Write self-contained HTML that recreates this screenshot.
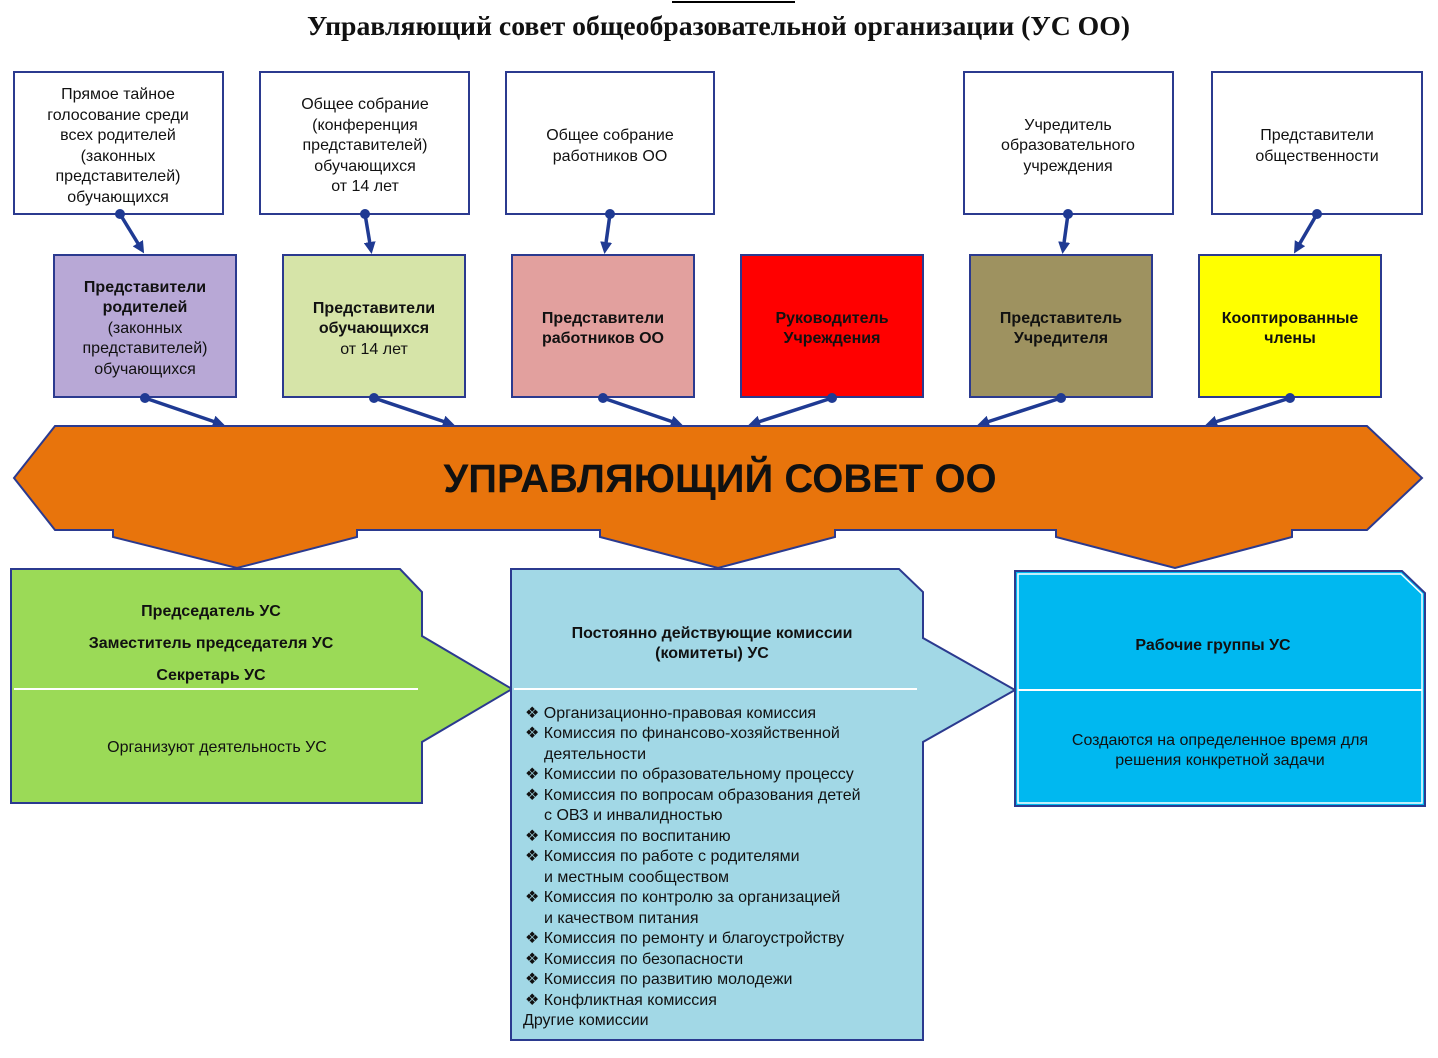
<!DOCTYPE html>
<html><head><meta charset="utf-8"><style>
html,body{margin:0;padding:0;background:#fff}
svg{display:block}
text{font-family:"Liberation Sans",Arial,sans-serif;fill:#111}
.t{font-size:16px;text-anchor:middle}
.b{font-weight:bold}
</style></head><body>
<svg width="1438" height="1058" viewBox="0 0 1438 1058" xmlns="http://www.w3.org/2000/svg">
<defs>
<marker id="ah" markerWidth="12" markerHeight="12" refX="8" refY="6" orient="auto" markerUnits="userSpaceOnUse">
<path d="M0,0 L12,6 L0,12 z" fill="#1F3A93"/>
</marker>
</defs>
<line x1="672" y1="2" x2="795" y2="2" stroke="#000" stroke-width="2"/>
<text x="307" y="35" textLength="823" lengthAdjust="spacingAndGlyphs" style="font-family:'Liberation Serif',serif;font-size:27px;font-weight:bold">Управляющий совет общеобразовательной организации (УС ОО)</text>

<g fill="#fff" stroke="#2B3A8F" stroke-width="2">
<rect x="14" y="72" width="209" height="142"/>
<rect x="260" y="72" width="209" height="142"/>
<rect x="506" y="72" width="208" height="142"/>
<rect x="964" y="72" width="209" height="142"/>
<rect x="1212" y="72" width="210" height="142"/>
</g>
<g class="t">
<text class="t" x="118" y="99">Прямое тайное</text>
<text class="t" x="118" y="120">голосование среди</text>
<text class="t" x="118" y="140">всех родителей</text>
<text class="t" x="118" y="161">(законных</text>
<text class="t" x="118" y="181">представителей)</text>
<text class="t" x="118" y="202">обучающихся</text>
<text class="t" x="365" y="109">Общее собрание</text>
<text class="t" x="365" y="130">(конференция</text>
<text class="t" x="365" y="150">представителей)</text>
<text class="t" x="365" y="171">обучающихся</text>
<text class="t" x="365" y="191">от 14 лет</text>
<text class="t" x="610" y="140">Общее собрание</text>
<text class="t" x="610" y="161">работников ОО</text>
<text class="t" x="1068" y="130">Учредитель</text>
<text class="t" x="1068" y="150">образовательного</text>
<text class="t" x="1068" y="171">учреждения</text>
<text class="t" x="1317" y="140">Представители</text>
<text class="t" x="1317" y="161">общественности</text>
</g>

<g stroke="#2B3A8F" stroke-width="2">
<rect x="54" y="255" width="182" height="142" fill="#B8A8D6"/>
<rect x="283" y="255" width="182" height="142" fill="#D6E4A8"/>
<rect x="512" y="255" width="182" height="142" fill="#E2A09E"/>
<rect x="741" y="255" width="182" height="142" fill="#FF0000"/>
<rect x="970" y="255" width="182" height="142" fill="#9E9260"/>
<rect x="1199" y="255" width="182" height="142" fill="#FFFF00"/>
</g>
<text class="t b" x="145" y="292">Представители</text>
<text class="t b" x="145" y="312">родителей</text>
<text class="t" x="145" y="333">(законных</text>
<text class="t" x="145" y="353">представителей)</text>
<text class="t" x="145" y="374">обучающихся</text>
<text class="t b" x="374" y="313">Представители</text>
<text class="t b" x="374" y="333">обучающихся</text>
<text class="t" x="374" y="354">от 14 лет</text>
<text class="t b" x="603" y="323">Представители</text>
<text class="t b" x="603" y="343">работников ОО</text>
<text class="t b" x="832" y="323">Руководитель</text>
<text class="t b" x="832" y="343">Учреждения</text>
<text class="t b" x="1061" y="323">Представитель</text>
<text class="t b" x="1061" y="343">Учредителя</text>
<text class="t b" x="1290" y="323">Кооптированные</text>
<text class="t b" x="1290" y="343">члены</text>

<g stroke="#1F3A93" stroke-width="3.5" marker-end="url(#ah)">
<line x1="120" y1="214" x2="142" y2="250"/>
<line x1="365" y1="214" x2="371" y2="250"/>
<line x1="610" y1="214" x2="605" y2="250"/>
<line x1="1068" y1="214" x2="1063" y2="250"/>
<line x1="1317" y1="214" x2="1296" y2="250"/>
<line x1="145" y1="398" x2="221" y2="424"/>
<line x1="374" y1="398" x2="451" y2="424"/>
<line x1="603" y1="398" x2="679" y2="424"/>
<line x1="832" y1="398" x2="752" y2="424"/>
<line x1="1061" y1="398" x2="981" y2="424"/>
<line x1="1290" y1="398" x2="1209" y2="424"/>
</g>
<g fill="#1F3A93">
<circle cx="120" cy="214" r="5"/><circle cx="365" cy="214" r="5"/><circle cx="610" cy="214" r="5"/><circle cx="1068" cy="214" r="5"/><circle cx="1317" cy="214" r="5"/>
<circle cx="145" cy="398" r="5"/><circle cx="374" cy="398" r="5"/><circle cx="603" cy="398" r="5"/><circle cx="832" cy="398" r="5"/><circle cx="1061" cy="398" r="5"/><circle cx="1290" cy="398" r="5"/>
</g>

<path d="M55,426 L1367,426 L1422,478 L1367,530 L1292,530 L1292,537 L1175,568 L1056,537 L1056,530 L835,530 L835,537 L718,568 L600,537 L600,530 L357,530 L357,537 L237,568 L113,537 L113,530 L55,530 L14,478 Z" fill="#E8740C" stroke="#2B3A8F" stroke-width="2"/>
<text x="720" y="492" style="font-size:40px;font-weight:bold;text-anchor:middle">УПРАВЛЯЮЩИЙ СОВЕТ ОО</text>

<path d="M11,569 L400,569 L422,592 L422,636 L512,689 L422,742 L422,803 L11,803 Z" fill="#9BDA57" stroke="#2B3A8F" stroke-width="2"/>
<line x1="14" y1="689" x2="418" y2="689" stroke="#fff" stroke-width="2"/>
<text class="t b" x="211" y="616">Председатель УС</text>
<text class="t b" x="211" y="648">Заместитель председателя УС</text>
<text class="t b" x="211" y="680">Секретарь УС</text>
<text class="t" x="217" y="752">Организуют деятельность УС</text>

<path d="M511,569 L899,569 L923,592 L923,638 L1015,690 L923,742 L923,1040 L511,1040 Z" fill="#A2D8E6" stroke="#2B3A8F" stroke-width="2"/>
<line x1="514" y1="689" x2="917" y2="689" stroke="#fff" stroke-width="2"/>
<text class="t b" x="712" y="638">Постоянно действующие комиссии</text>
<text class="t b" x="712" y="658">(комитеты) УС</text>
<g style="font-size:16px">
<text x="525" y="718">❖ Организационно-правовая комиссия</text>
<text x="525" y="738">❖ Комиссия по финансово-хозяйственной</text>
<text x="544" y="759">деятельности</text>
<text x="525" y="779">❖ Комиссии по образовательному процессу</text>
<text x="525" y="800">❖ Комиссия по вопросам образования детей</text>
<text x="544" y="820">с ОВЗ и инвалидностью</text>
<text x="525" y="841">❖ Комиссия по воспитанию</text>
<text x="525" y="861">❖ Комиссия по работе с родителями</text>
<text x="544" y="882">и местным сообществом</text>
<text x="525" y="902">❖ Комиссия по контролю за организацией</text>
<text x="544" y="923">и качеством питания</text>
<text x="525" y="943">❖ Комиссия по ремонту и благоустройству</text>
<text x="525" y="964">❖ Комиссия по безопасности</text>
<text x="525" y="984">❖ Комиссия по развитию молодежи</text>
<text x="525" y="1005">❖ Конфликтная комиссия</text>
<text x="523" y="1025">Другие комиссии</text>
</g>

<path d="M1015,571 L1402,571 L1425,593 L1425,806 L1015,806 Z" fill="#00B8F0" stroke="#2B3A8F" stroke-width="2"/>
<path d="M1018,574 L1401,574 L1422,594 L1422,803 L1018,803 Z" fill="none" stroke="#fff" stroke-width="1.5"/>
<line x1="1018" y1="690" x2="1422" y2="690" stroke="#fff" stroke-width="2"/>
<text class="t b" x="1213" y="650">Рабочие группы УС</text>
<text class="t" x="1220" y="745">Создаются на определенное время для</text>
<text class="t" x="1220" y="765">решения конкретной задачи</text>
</svg>
</body></html>
